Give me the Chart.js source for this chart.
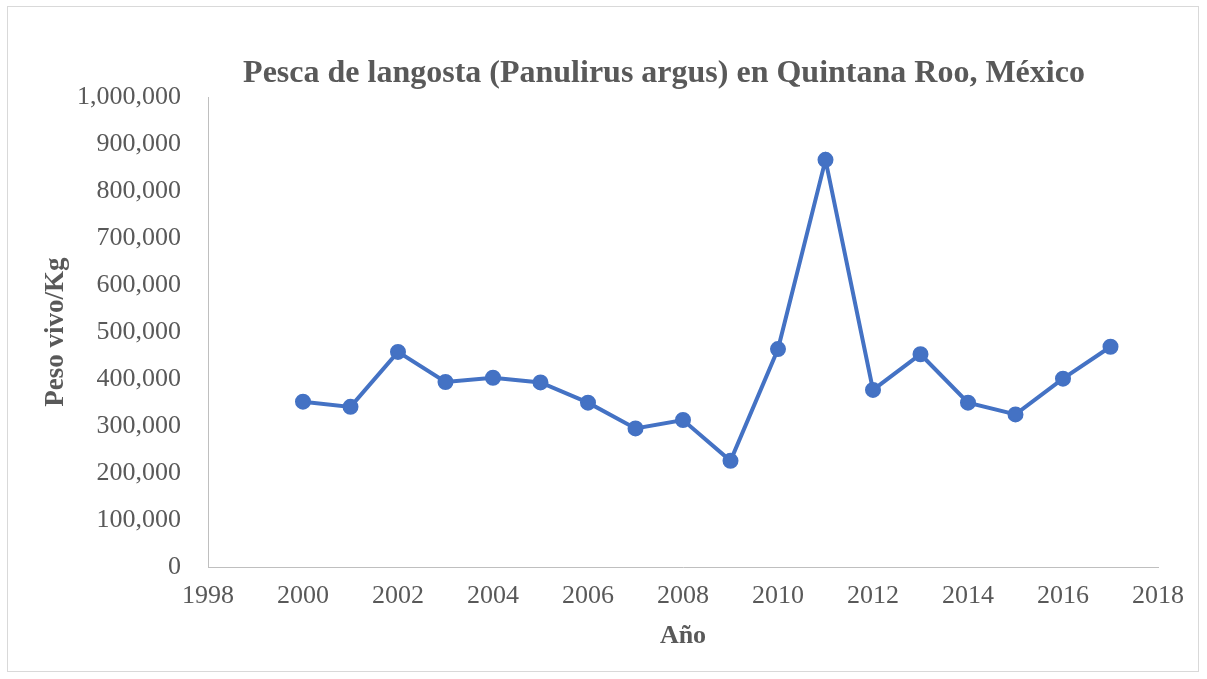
<!DOCTYPE html>
<html>
<head>
<meta charset="utf-8">
<script src="https://cdn.jsdelivr.net/npm/chart.js@4"></script>
<style>
  html, body { margin: 0; padding: 0; background: #fff; }
  #wrap { position: relative; width: 1207px; height: 679px; }
  #marco { position: absolute; left: 7px; top: 6px; width: 1192px; height: 666px; border: 1px solid #d9d9d9; box-sizing: border-box; pointer-events: none; }
  canvas { position: absolute; left: 0; top: 0; }
</style>
</head>
<body>
<div id="wrap">
  <canvas id="graficoLangosta" width="1207" height="679"></canvas>
  <div id="marco"></div>
</div>
<script>
// datos
const anios = [2000, 2001, 2002, 2003, 2004, 2005, 2006, 2007, 2008, 2009, 2010, 2011, 2012, 2013, 2014, 2015, 2016, 2017];
const pesoVivo = [352000, 341000, 458000, 394000, 403000, 393000, 350000, 295000, 313000, 226000, 464000, 867000, 377000, 453000, 350000, 325000, 401000, 469000];
const titulo = 'Pesca de langosta (Panulirus argus) en Quintana Roo, México';
const tituloY = 'Peso vivo/Kg';
const tituloX = 'Año';

const gris = '#595959';
const fuente = '"Liberation Serif", "Times New Roman", serif';

// mover el título para centrarlo como en Excel
const moverTitulo = {
  id: 'moverTitulo',
  afterLayout(chart) {
    if (chart.titleBlock) {
      chart.titleBlock.left = 170;
    }
  }
};

window.onload = function () {
  const ctx = document.getElementById('graficoLangosta');
  new Chart(ctx, {
    type: 'line',
    data: {
      datasets: [{
        label: tituloY,
        data: anios.map((a, i) => ({ x: a, y: pesoVivo[i] })),
        borderColor: '#4472C4',
        backgroundColor: '#4472C4',
        borderWidth: 4,
        pointRadius: 7,
        pointBorderWidth: 2,
        pointBackgroundColor: '#4472C4',
        pointBorderColor: '#4472C4',
        tension: 0
      }]
    },
    options: {
      responsive: false,
      animation: false,
      layout: { padding: { left: 0, right: 49, top: 0, bottom: 22 } },
      plugins: {
        legend: { display: false },
        tooltip: { enabled: false },
        title: {
          display: true,
          text: titulo,
          fullSize: false,
          color: gris,
          font: { family: fuente, size: 32, weight: 'bold' },
          padding: { top: 55, bottom: 4 }
        }
      },
      scales: {
        x: {
          type: 'linear',
          min: 1998,
          max: 2018,
          grid: { display: false, drawTicks: false },
          border: { display: true, color: '#bfbfbf', width: 1 },
          ticks: {
            stepSize: 2,
            padding: 14,
            color: gris,
            font: { family: fuente, size: 26 },
            callback: v => String(v)
          },
          title: {
            display: true,
            text: tituloX,
            color: gris,
            font: { family: fuente, size: 26, weight: 'bold' },
            padding: { top: 0, bottom: 5 }
          },
          afterFit(scale) { scale.height = 90; }
        },
        y: {
          min: 0,
          max: 1000000,
          grid: { display: false, drawTicks: false },
          border: { display: true, color: '#bfbfbf', width: 1 },
          ticks: {
            stepSize: 100000,
            padding: 27,
            color: gris,
            font: { family: fuente, size: 26 },
            callback: v => v.toLocaleString('en-US')
          },
          title: {
            display: true,
            text: tituloY,
            color: gris,
            font: { family: fuente, size: 27, weight: 'bold' },
            padding: { top: 40, bottom: 0 }
          },
          afterFit(scale) { scale.width = 208; }
        }
      }
    },
    plugins: [moverTitulo]
  });
};
</script>
</body>
</html>
